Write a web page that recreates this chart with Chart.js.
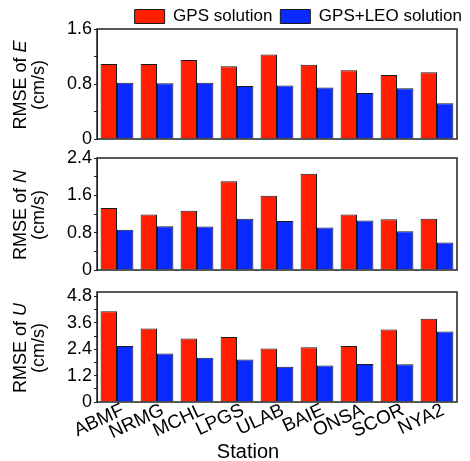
<!DOCTYPE html>
<html>
<head>
<meta charset="utf-8">
<script src="https://cdn.jsdelivr.net/npm/chart.js@4.4.1/dist/chart.umd.min.js"></script>
<style>
  html, body { margin: 0; padding: 0; background: #fff; }
  #wrap { position: relative; width: 470px; height: 461px; }
  #wrap canvas { position: absolute; left: 0; top: 0; }
</style>
</head>
<body>
<div id="wrap">
  <canvas id="chartE" width="470" height="461"></canvas>
  <canvas id="chartN" width="470" height="461"></canvas>
  <canvas id="chartU" width="470" height="461"></canvas>
</div>
<script>
// Dados (RMSE de velocidade, cm/s)
const stations = ['ABMF', 'NRMG', 'MCHL', 'LPGS', 'ULAB', 'BAIE', 'ONSA', 'SCOR', 'NYA2'];
const gpsE = [1.09, 1.09, 1.15, 1.06, 1.23, 1.08, 1.00, 0.93, 0.97];
const leoE = [0.82, 0.81, 0.82, 0.77, 0.78, 0.75, 0.67, 0.74, 0.52];
const gpsN = [1.33, 1.19, 1.27, 1.90, 1.59, 2.06, 1.19, 1.09, 1.10];
const leoN = [0.86, 0.94, 0.93, 1.10, 1.05, 0.91, 1.06, 0.83, 0.59];
const gpsU = [4.13, 3.34, 2.89, 2.95, 2.43, 2.49, 2.54, 3.30, 3.78];
const leoU = [2.55, 2.20, 2.01, 1.93, 1.60, 1.66, 1.73, 1.72, 3.21];

// Ticks (menores sem rótulo)
const eTicks = [0, 0.4, 0.8, 1.2, 1.6];
const eLabels = ['0', '', '0.8', '', '1.6'];
const nTicks = [0, 0.4, 0.8, 1.2, 1.6, 2.0, 2.4];
const nLabels = ['0', '', '0.8', '', '1.6', '', '2.4'];
const uTicks = [0, 0.6, 1.2, 1.8, 2.4, 3.0, 3.6, 4.2, 4.8];
const uLabels = ['0', '', '1.2', '', '2.4', '', '3.6', '', '4.8'];

const FONT = "Arial, 'Liberation Sans', sans-serif";
Chart.defaults.font.family = FONT;
Chart.defaults.color = '#000';

// Títulos laterais + moldura
function sideText(letter, withStation) {
    return {
        id: 'sideText',
        afterDraw(chart) {
            const { ctx, chartArea: a } = chart;
            const cy = (a.top + a.bottom) / 2 + 1;
            ctx.save();
            ctx.fillStyle = '#000';
            ctx.textBaseline = 'middle';
            ctx.translate(21, cy);
            ctx.rotate(-Math.PI / 2);
            const head = 'RMSE of ';
            ctx.font = `18px ${FONT}`;
            const w1 = ctx.measureText(head).width;
            ctx.font = `italic 18px ${FONT}`;
            const w2 = ctx.measureText(letter).width;
            const x0 = -(w1 + w2) / 2;
            ctx.textAlign = 'left';
            ctx.font = `18px ${FONT}`;
            ctx.fillText(head, x0, 0);
            ctx.font = `italic 18px ${FONT}`;
            ctx.fillText(letter, x0 + w1, 0);
            ctx.font = `18px ${FONT}`;
            ctx.textAlign = 'center';
            ctx.fillText('(cm/s)', 0, 18);
            ctx.restore();

            ctx.save();
            ctx.strokeStyle = '#222';
            ctx.lineWidth = 1.5;
            ctx.strokeRect(a.left, a.top, a.right - a.left, a.bottom - a.top);
            ctx.restore();

            if (withStation) {
                ctx.save();
                ctx.fillStyle = '#000';
                ctx.font = `20px ${FONT}`;
                ctx.textAlign = 'center';
                ctx.textBaseline = 'alphabetic';
                ctx.fillText('Station', 248, 458);
                ctx.restore();
            }
        }
    };
}

function yScale(max, tickValues, tickLabels) {
    return {
        min: 0,
        max: max,
        afterBuildTicks: s => { s.ticks = tickValues.map(v => ({ value: v })); },
        afterFit: s => { s.width = 97; },
        ticks: { font: { size: 18 }, color: '#000', padding: 2, autoSkip: false, callback: (v, i) => tickLabels[i] },
        grid: { drawOnChartArea: false, tickLength: 3, color: '#222', lineWidth: 1 },
        border: { display: true, color: '#222' }
    };
}

function datasets(gps, leo) {
    return [
        { label: 'GPS solution', data: gps, backgroundColor: '#FF1E00', borderColor: '#1a1a1a', borderWidth: 1 },
        { label: 'GPS+LEO solution', data: leo, backgroundColor: '#0A2AFF', borderColor: '#1a1a1a', borderWidth: 1 }
    ];
}

const common = {
    responsive: false,
    animation: false,
    datasets: { bar: { categoryPercentage: 0.82, barPercentage: 1 } },
    plugins: { tooltip: { enabled: false } }
};

// 1. Painel E (com legenda)
new Chart(document.getElementById('chartE'), {
    type: 'bar',
    data: { labels: stations, datasets: datasets(gpsE, leoE) },
    options: {
        ...common,
        layout: { padding: { top: 0, bottom: 322, left: 0, right: 0 } },
        plugins: {
            tooltip: { enabled: false },
            legend: {
                display: true,
                position: 'top',
                align: 'end',
                maxHeight: 29,
                labels: { boxWidth: 30, boxHeight: 14, padding: 8, font: { size: 17 }, color: '#000' }
            }
        },
        scales: {
            x: { display: false },
            y: yScale(1.6, eTicks, eLabels),
            yR: {
                position: 'right',
                display: true,
                ticks: { display: false },
                grid: { display: false },
                border: { display: false },
                afterFit: s => { s.width = 13; }
            }
        }
    },
    plugins: [sideText('E', false)]
});

// 2. Painel N
new Chart(document.getElementById('chartN'), {
    type: 'bar',
    data: { labels: stations, datasets: datasets(gpsN, leoN) },
    options: {
        ...common,
        layout: { padding: { top: 158, bottom: 191, left: 0, right: 13 } },
        plugins: { tooltip: { enabled: false }, legend: { display: false } },
        scales: {
            x: { display: false },
            y: yScale(2.4, nTicks, nLabels)
        }
    },
    plugins: [sideText('N', false)]
});

// 3. Painel U (com rótulos das estações)
new Chart(document.getElementById('chartU'), {
    type: 'bar',
    data: { labels: stations, datasets: datasets(gpsU, leoU) },
    options: {
        ...common,
        layout: { padding: { top: 292, bottom: 0, left: 0, right: 13 } },
        plugins: { tooltip: { enabled: false }, legend: { display: false } },
        scales: {
            x: {
                ticks: { font: { size: 19 }, color: '#000', minRotation: 25, maxRotation: 25, padding: -11, labelOffset: 6, autoSkip: false },
                grid: { display: false },
                border: { display: false },
                afterFit: s => { s.height = 59; }
            },
            y: yScale(5.0, uTicks, uLabels)
        }
    },
    plugins: [sideText('U', true)]
});
</script>
</body>
</html>
